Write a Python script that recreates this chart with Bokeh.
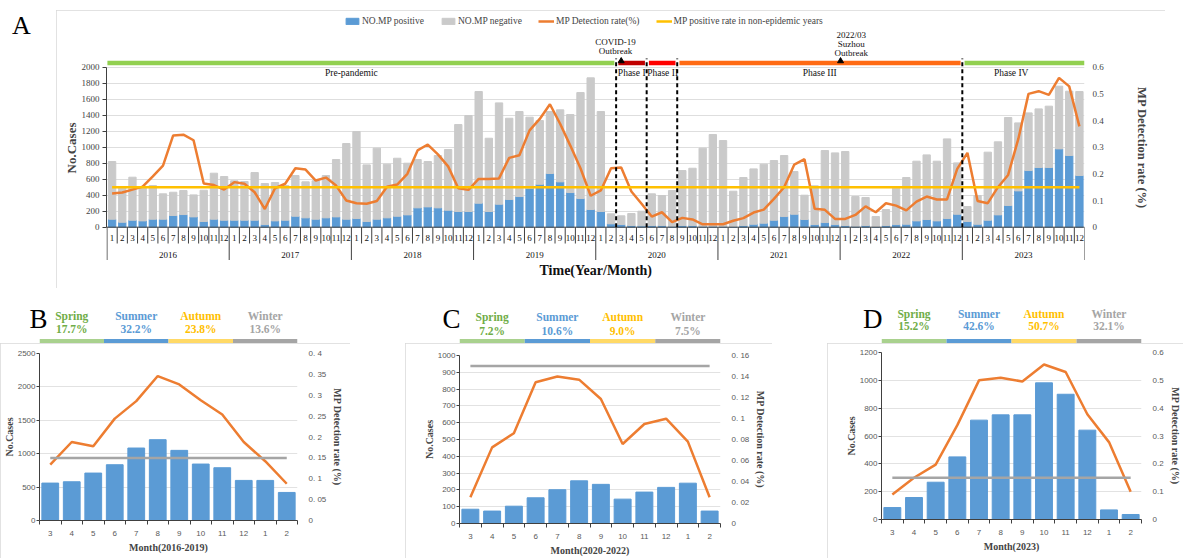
from bokeh.plotting import figure
from bokeh.models import (Range1d, LinearAxis, FixedTicker, Grid, ColumnDataSource,
                          CustomJSTickFormatter, Spacer)
from bokeh.layouts import column, row
from bokeh.core.properties import value
from bokeh.embed import file_html
from bokeh.resources import INLINE

SERIF = "Liberation Serif"
SANS = "Liberation Sans"

# ---------------- data: panel A (monthly, 2016-2023) ----------------
years = ["2016", "2017", "2018", "2019", "2020", "2021", "2022", "2023"]
months = ["1", "2", "3", "4", "5", "6", "7", "8", "9", "10", "11", "12"]

positive = [
    100, 62, 87, 79, 100, 100, 146, 158, 129, 71, 100, 87,
    87, 87, 87, 33, 79, 87, 137, 117, 100, 117, 129, 100,
    108, 71, 100, 117, 137, 154, 242, 254, 242, 212, 196, 196,
    300, 196, 287, 346, 383, 487, 537, 671, 567, 433, 358, 221,
    196, 42, 33, 21, 17, 21, 21, 12, 21, 21, 12, 12,
    8, 8, 21, 37, 50, 87, 133, 162, 96, 33, 58, 33,
    21, 12, 21, 8, 21, 33, 37, 79, 96, 79, 108, 162,
    71, 37, 87, 154, 271, 454, 708, 746, 746, 979, 896, 646,
]
negative = [
    721, 426, 538, 416, 421, 317, 291, 300, 275, 391, 575, 546,
    493, 484, 596, 513, 479, 434, 509, 450, 480, 529, 717, 946,
    1088, 708, 888, 671, 725, 646, 604, 567, 654, 759, 1087, 1200,
    1396, 916, 1267, 1016, 1063, 888, 796, 775, 900, 975, 1325, 1646,
    1250, 125, 109, 150, 183, 396, 375, 446, 687, 716, 976, 1146,
    1075, 442, 600, 692, 737, 746, 763, 534, 304, 484, 900, 896,
    925, 371, 350, 125, 200, 454, 584, 746, 808, 746, 996, 642,
    187, 359, 851, 913, 1100, 850, 721, 733, 767, 784, 804, 1050,
]
rate = [
    0.126, 0.130, 0.141, 0.152, 0.191, 0.231, 0.344, 0.347, 0.326, 0.164, 0.158, 0.141,
    0.169, 0.163, 0.131, 0.068, 0.146, 0.163, 0.221, 0.216, 0.175, 0.186, 0.156, 0.100,
    0.090, 0.088, 0.098, 0.152, 0.160, 0.200, 0.288, 0.310, 0.273, 0.228, 0.146, 0.140,
    0.181, 0.181, 0.183, 0.260, 0.270, 0.363, 0.406, 0.461, 0.388, 0.306, 0.221, 0.118,
    0.138, 0.221, 0.224, 0.134, 0.088, 0.040, 0.056, 0.019, 0.035, 0.029, 0.011, 0.011,
    0.011, 0.024, 0.034, 0.055, 0.066, 0.106, 0.150, 0.235, 0.255, 0.069, 0.065, 0.031,
    0.031, 0.046, 0.078, 0.056, 0.090, 0.081, 0.063, 0.096, 0.115, 0.104, 0.104, 0.219,
    0.279, 0.098, 0.090, 0.150, 0.196, 0.331, 0.500, 0.510, 0.496, 0.560, 0.528, 0.378,
]
baseline_rate = 0.15

phase_names = ["Pre-pandemic", "Phase I", "Phase II", "Phase III", "Phase IV"]
phase_start = [0, 50, 53, 56, 84]          # month index where each phase begins
phase_colors = ["#92D050", "#C00000", "#FF0000", "#FF6A13", "#92D050"]
events = [["COVID-19", "Outbreak"], ["2022/03", "Suzhou", "Outbreak"]]

# ---------------- data: panels B, C, D (by month of year) ----------------
season_months = ["3", "4", "5", "6", "7", "8", "9", "10", "11", "12", "1", "2"]
season_names = ["Spring", "Summer", "Autumn", "Winter"]
pct_B = ["17.7%", "32.2%", "23.8%", "13.6%"]
pct_C = ["7.2%", "10.6%", "9.0%", "7.5%"]
pct_D = ["15.2%", "42.6%", "50.7%", "32.1%"]
cases_B = [560, 580, 710, 835, 1085, 1210, 1050, 845, 790, 600, 600, 420]
rate_B = [0.134, 0.188, 0.178, 0.244, 0.286, 0.346, 0.326, 0.288, 0.254, 0.188, 0.142, 0.088]
cases_C = [85, 74, 103, 153, 201, 254, 233, 145, 187, 215, 240, 74]
rate_C = [0.025, 0.0725, 0.086, 0.1345, 0.140, 0.137, 0.1186, 0.0757, 0.0948, 0.0998, 0.078, 0.025]
cases_D = [86, 158, 268, 450, 714, 752, 752, 982, 900, 642, 69, 36]
rate_D = [0.09, 0.15, 0.197, 0.339, 0.50, 0.509, 0.496, 0.557, 0.53, 0.378, 0.278, 0.10]

BLUE = "#5B9BD5"
GRAY = "#CACACA"
ORANGE = "#ED7D31"
YELLOW = "#FFC000"
BOX = {"outline": "1px solid #D9D9D9", "outline-offset": "-1px"}

fmt_plain = CustomJSTickFormatter(code="""
if (Math.abs(tick) < 1e-9) { return "0"; }
return tick.toFixed(1);
""")
fmt_spaced = CustomJSTickFormatter(code="""
if (Math.abs(tick) < 1e-9) { return "0"; }
var s = tick.toFixed(2).replace(/0+$/, "");
return s.replace(".", ". ");
""")


def no_grids(p):
    for g in p.grid:
        g.visible = False


# ================= Panel A =================
n = len(positive)
idx = list(range(n))
A_W, A_H = 1109, 278
A_TOP, A_BOT = 3, 6
Y_LO, Y_HI = -691.25, 2671.25
RATE_PER_CASE = 0.6 / 2000.0
PAGE_Y0 = 10  # page y of panel A canvas top


def ya(page_y):
    frame_h = A_H - A_TOP - A_BOT
    return Y_HI - (page_y - PAGE_Y0 - A_TOP) * (Y_HI - Y_LO) / frame_h


pA = figure(width=A_W, height=A_H, x_range=Range1d(-0.55, n - 0.5), y_range=Range1d(Y_LO, Y_HI),
            x_axis_location=None, y_axis_location=None, output_backend="svg",
            toolbar_location=None, min_border_left=50, min_border_right=81,
            min_border_top=A_TOP, min_border_bottom=A_BOT, outline_line_color=None, styles=BOX)
no_grids(pA)
pA.extra_y_ranges = {"rate": Range1d(Y_LO * RATE_PER_CASE, Y_HI * RATE_PER_CASE)}

pA.add_layout(Grid(dimension=1, ticker=FixedTicker(ticks=list(range(200, 2001, 200))),
                   grid_line_color="#DEDEDE"))

axl = LinearAxis(ticker=FixedTicker(ticks=list(range(0, 2001, 200))), bounds=(0, 2000),
                 axis_label="No.Cases", axis_label_text_font=SERIF,
                 axis_label_text_font_style="bold", axis_label_text_font_size="13px",
                 axis_label_standoff=0, major_label_text_font=SERIF,
                 major_label_text_font_size="9px", major_label_standoff=3,
                 major_tick_out=4, major_tick_in=0, minor_tick_line_color=None,
                 axis_line_color="#404040", major_tick_line_color="#404040")
pA.add_layout(axl, "left")

axr = LinearAxis(y_range_name="rate", ticker=FixedTicker(ticks=[0, 0.1, 0.2, 0.3, 0.4, 0.5, 0.6]),
                 bounds=(0, 0.6), formatter=fmt_plain,
                 axis_label="MP Detection rate (%)", axis_label_text_font=SERIF,
                 axis_label_text_font_style="bold", axis_label_text_font_size="12.5px",
                 axis_label_standoff=28, major_label_text_font=SERIF,
                 major_label_text_font_size="9px", major_label_standoff=2,
                 axis_line_color=None, major_tick_line_color=None, minor_tick_line_color=None)
pA.add_layout(axr, "right")

srcA = ColumnDataSource(dict(x=idx, positive=positive, negative=negative, rate=rate))
pA.vbar_stack(["positive", "negative"], x="x", width=0.72, color=[BLUE, GRAY], source=srcA,
              legend_label=["NO.MP positive", "NO.MP negative"])
pA.line("x", "rate", source=srcA, y_range_name="rate", line_color=ORANGE, line_width=2.5,
        legend_label="MP Detection rate(%)")
pA.line([idx[0], idx[-1]], [baseline_rate, baseline_rate], y_range_name="rate",
        line_color=YELLOW, line_width=2.5, legend_label="MP positive rate in non-epidemic years")

# month / year table under the bars
sep_x = [i - 0.5 for i in range(n + 1)]
sep_y1 = [ya(259.5) if i % 12 == 0 else ya(243) for i in range(n + 1)]
pA.segment(x0=sep_x, y0=[0] * (n + 1), x1=sep_x, y1=sep_y1, line_color="#404040", line_width=1)
pA.segment(x0=[-0.5], y0=[0], x1=[n - 0.5], y1=[0], line_color="#404040", line_width=1)
pA.text(x=idx, y=[ya(237.5)] * n, text=months * len(years), text_font=value(SERIF),
        text_font_size="9px", text_align="center", text_baseline="middle", text_color="#111111")
pA.text(x=[12 * k + 5.5 for k in range(len(years))], y=[ya(254.5)] * len(years), text=years,
        text_font=value(SERIF), text_font_size="9px", text_align="center",
        text_baseline="middle", text_color="#111111")
pA.text(x=[(n - 1) / 2], y=[ya(270)], text=["Time(Year/Month)"], text_font=value(SERIF),
        text_font_size="14px", text_font_style="bold", text_align="center",
        text_baseline="middle", text_color="#111111")

# phases
bounds = [s - 0.5 for s in phase_start[1:]]
edges = [-0.5] + bounds + [n - 0.5]
pA.segment(x0=bounds, y0=[0] * len(bounds), x1=bounds, y1=[ya(58)] * len(bounds),
           line_color="black", line_width=2, line_dash="4 3")
bar_x0 = [edges[0] + 0.04] + [e + 0.22 for e in edges[1:-1]]
bar_x1 = [e - 0.17 for e in edges[1:-1]] + [edges[-1]]
pA.segment(x0=bar_x0, y0=[ya(62.5)] * 5, x1=bar_x1, y1=[ya(62.5)] * 5,
           line_color=phase_colors, line_width=4.5)
pA.text(x=[23.5, 69.5, 88.3], y=[ya(72)] * 3,
        text=[phase_names[0], phase_names[3], phase_names[4]], text_font=value(SERIF),
        text_font_size="9.5px", text_align="center", text_baseline="middle", text_color="#111111")
pA.text(x=[bounds[0] + 0.17, bounds[1] + 0.05], y=[ya(72)] * 2,
        text=[phase_names[1], phase_names[2]], text_font=value(SERIF),
        text_font_size="9.5px", text_align="left", text_baseline="middle", text_color="#111111")

# events
pA.text(x=[49.45, 49.45], y=[ya(41), ya(50.5)], text=events[0], text_font=value(SERIF),
        text_font_size="9px", text_align="center", text_baseline="middle", text_color="#111111")
pA.text(x=[72.6] * 3, y=[ya(34), ya(43.3), ya(52.3)], text=events[1], text_font=value(SERIF),
        text_font_size="9px", text_align="center", text_baseline="middle", text_color="#111111")
pA.scatter(x=[50.0, 71.54], y=[ya(60.5)] * 2, marker="triangle", size=6, color="black")

lg = pA.legend[0]
lg.location = (238, 255)
lg.orientation = "horizontal"
lg.label_text_font = SERIF
lg.label_text_font_size = "9.5px"
lg.glyph_width = 16
lg.glyph_height = 8
lg.label_height = 12
lg.label_standoff = 2
lg.spacing = 16
lg.padding = 1
lg.margin = 0
lg.background_fill_alpha = 0
lg.border_line_color = None

# letter A
pLA = figure(width=56, height=A_H, x_range=Range1d(0, 56), y_range=Range1d(A_H, 0),
             x_axis_location=None, y_axis_location=None, output_backend="svg",
             toolbar_location=None, min_border=0, outline_line_color=None)
no_grids(pLA)
pLA.text(x=[21], y=[12], text=["A"], text_font=value(SERIF), text_font_size="26px",
         text_align="center", text_baseline="middle", text_color="black")

# ================= Panels B, C, D =================
SEASON_TEXT = ["#70AD47", "#5B9BD5", "#FFC000", "#A5A5A5"]
SEASON_BAR = ["#A9D18E", "#5B9BD5", "#FFD966", "#A5A5A5"]
LOW_H = 215
HEAD_H = 50


def season_panel(cases, rates, xlabel, ymax, ystep, rticks, fmt, width, fl, fr, ft, fb):
    p = figure(width=width, height=LOW_H, x_range=Range1d(-0.5, 11.5), y_range=Range1d(0, ymax),
               x_axis_location=None, y_axis_location=None, output_backend="svg",
               toolbar_location=None, min_border_left=fl, min_border_right=fr,
               min_border_top=ft, min_border_bottom=fb, outline_line_color=None, styles=BOX)
    no_grids(p)
    p.extra_y_ranges = {"rate": Range1d(0, rticks[-1])}
    lt = list(range(0, ymax + 1, ystep))
    p.add_layout(Grid(dimension=1, ticker=FixedTicker(ticks=lt[1:]), grid_line_color="#E2E2E2"))
    yl = LinearAxis(ticker=FixedTicker(ticks=lt), axis_label="No.Cases",
                    axis_label_text_font=SERIF, axis_label_text_font_style="bold",
                    axis_label_text_font_size="10px", axis_label_standoff=0,
                    major_label_text_font=SANS, major_label_text_font_size="8px",
                    major_label_text_color="#595959", major_label_standoff=1,
                    major_tick_out=3, major_tick_in=0, minor_tick_line_color=None,
                    axis_line_color="#404040", major_tick_line_color="#404040")
    p.add_layout(yl, "left")
    yr = LinearAxis(y_range_name="rate", ticker=FixedTicker(ticks=rticks), formatter=fmt,
                    axis_label="MP Detection rate (%)", axis_label_text_font=SERIF,
                    axis_label_text_font_style="bold", axis_label_text_font_size="10px",
                    axis_label_standoff=3, major_label_text_font=SANS,
                    major_label_text_font_size="8px", major_label_text_color="#595959",
                    major_label_standoff=5, axis_line_color=None, major_tick_line_color=None,
                    minor_tick_line_color=None)
    p.add_layout(yr, "right")
    xa = LinearAxis(ticker=FixedTicker(ticks=list(range(12)), minor_ticks=[i - 0.5 for i in range(13)]),
                    major_label_overrides={i: m for i, m in enumerate(season_months)},
                    axis_label=xlabel, axis_label_text_font=SERIF,
                    axis_label_text_font_style="bold", axis_label_text_font_size="10px",
                    axis_label_standoff=3, major_label_text_font=SANS,
                    major_label_text_font_size="8px", major_label_text_color="#595959",
                    major_label_standoff=4, major_tick_line_color=None,
                    minor_tick_out=4, minor_tick_in=0, minor_tick_line_color="#404040",
                    axis_line_color="#404040")
    p.add_layout(xa, "below")
    src = ColumnDataSource(dict(x=list(range(12)), cases=cases, rate=rates))
    p.vbar(x="x", top="cases", width=0.78, color=BLUE, source=src)
    p.line("x", "rate", source=src, y_range_name="rate", line_color=ORANGE, line_width=2.5)
    p.line([0, 11], [baseline_rate, baseline_rate], y_range_name="rate", line_color="#A5A5A5",
           line_width=2.5)
    return p


def header(width, letter, standoff, letter_center, pcts, fl, fr, name_y, pct_y):
    # frame of this header is aligned (by the column) with the panel frame below it
    h = figure(width=width, height=HEAD_H, x_range=Range1d(-0.5, 11.5),
               y_range=Range1d(HEAD_H, 0), x_axis_location=None, y_axis_location=None,
               output_backend="svg", toolbar_location=None, min_border_left=fl,
               min_border_right=fr, min_border_top=0, min_border_bottom=0,
               outline_line_color=None)
    no_grids(h)
    lax = LinearAxis(ticker=FixedTicker(ticks=[]), bounds=(0, 2 * letter_center),
                     axis_line_color=None, major_tick_line_color=None,
                     minor_tick_line_color=None, major_tick_out=0, major_label_standoff=0,
                     axis_label=letter, axis_label_text_font=SERIF,
                     axis_label_text_font_size="27px", axis_label_text_font_style="normal",
                     axis_label_text_color="black", axis_label_orientation="horizontal",
                     axis_label_standoff=standoff)
    h.add_layout(lax, "left")
    starts = [-0.5, 2.5, 5.5, 8.5]
    h.segment(x0=starts, y0=[47.6] * 4, x1=[s + 3 for s in starts], y1=[47.6] * 4,
              line_color=SEASON_BAR, line_width=4)
    xc = [s + 1.5 for s in starts]
    h.text(x=xc, y=[name_y] * 4, text=season_names, text_color=SEASON_TEXT,
           text_font=value(SERIF), text_font_size="11.5px", text_font_style="bold",
           text_align="center", text_baseline="middle")
    h.text(x=xc, y=[pct_y] * 4, text=pcts, text_color=SEASON_TEXT,
           text_font=value(SERIF), text_font_size="11.5px", text_font_style="bold",
           text_align="center", text_baseline="middle")
    return h


rt_B = [0, 0.05, 0.1, 0.15, 0.2, 0.25, 0.3, 0.35, 0.4]
rt_C = [0, 0.02, 0.04, 0.06, 0.08, 0.1, 0.12, 0.14, 0.16]
rt_D = [0, 0.1, 0.2, 0.3, 0.4, 0.5, 0.6]

pB = season_panel(cases_B, rate_B, "Month(2016-2019)", 2500, 500, rt_B, fmt_spaced, 350, 37, 53, 10, 38)
pC = season_panel(cases_C, rate_C, "Month(2020-2022)", 1000, 100, rt_C, fmt_spaced, 367, 54, 52, 12, 35)
pD = season_panel(cases_D, rate_D, "Month(2023)", 1200, 200, rt_D, fmt_plain, 356, 54, 38, 9, 39)

hB = header(350, "B", -8, 23, pct_B, 37, 53, 22.7, 35.3)
hC = header(367, "C", -1, 20, pct_C, 54, 52, 23.7, 37.0)
hD = header(356, "D", -1, 20.3, pct_D, 54, 38, 20.3, 32.7)

layout = column(
    Spacer(width=10, height=10),
    row(pLA, pA),
    Spacer(width=10, height=5),
    row(column(hB, pB), Spacer(width=55, height=10), column(hC, pC),
        Spacer(width=55, height=10), column(hD, pD)),
)

open("out.html", "w").write(file_html(layout, INLINE))
